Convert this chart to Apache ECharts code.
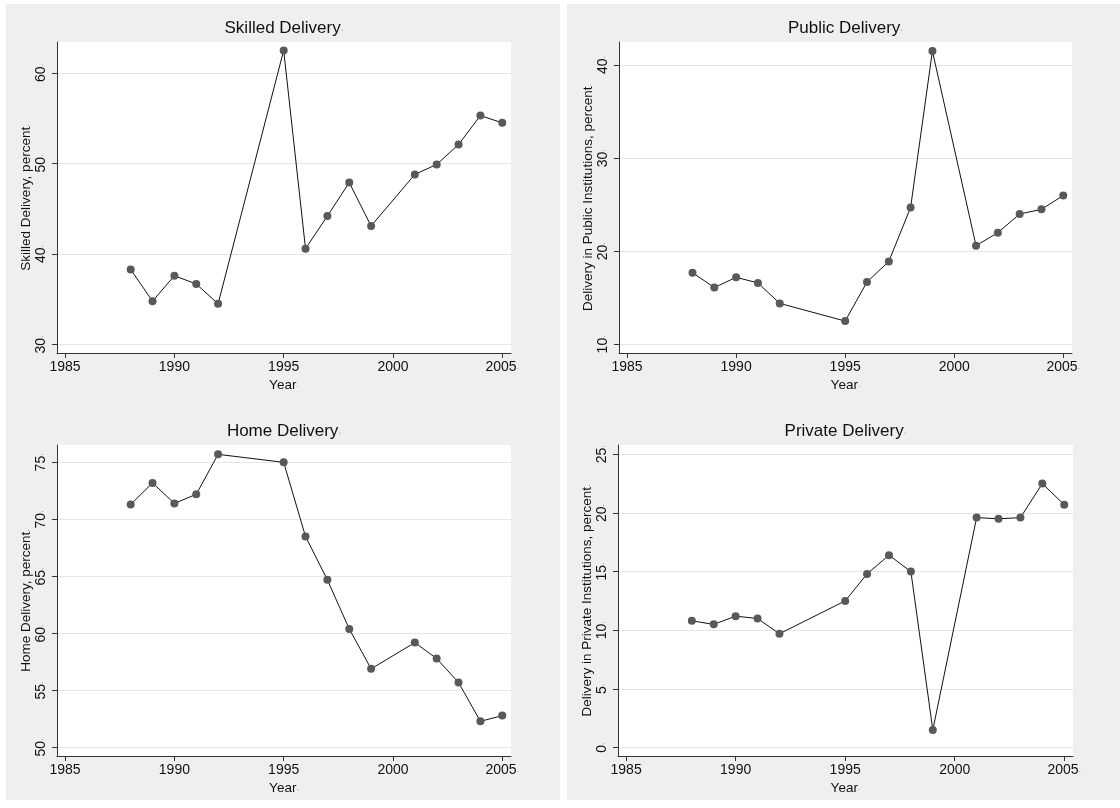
<!DOCTYPE html>
<html>
<head>
<meta charset="utf-8">
<script src="https://cdn.jsdelivr.net/npm/echarts@6/dist/echarts.min.js"></script>
<style>
  html, body { margin: 0; padding: 0; background: #ffffff; }
  #chart { width: 1120px; height: 808px; }
</style>
</head>
<body>
<div id="chart"></div>
<script>
// Survey years (no survey in 1993, 1994 or 2000)
const years = [1988, 1989, 1990, 1991, 1992, 1995, 1996, 1997, 1998, 1999, 2001, 2002, 2003, 2004, 2005];

// Share of deliveries, percent
const skilled     = [38.3, 34.8, 37.6, 36.7, 34.5, 62.5, 40.6, 44.2, 47.9, 43.1, 48.8, 49.9, 52.1, 55.3, 54.5];
const publicInst  = [17.7, 16.1, 17.2, 16.6, 14.4, 12.5, 16.7, 18.9, 24.7, 41.5, 20.6, 22.0, 24.0, 24.5, 26.0];
const home        = [71.3, 73.2, 71.4, 72.2, 75.7, 75.0, 68.5, 64.7, 60.4, 56.9, 59.2, 57.8, 55.7, 52.3, 52.8];
const privateInst = [10.8, 10.5, 11.2, 11.0, 9.7, 12.5, 14.8, 16.4, 15.0, 1.5, 19.6, 19.5, 19.6, 22.5, 20.7];

// Tick labels
const yearTicks    = [1985, 1990, 1995, 2000, 2005];
const skilledTicks = [30, 40, 50, 60];
const publicTicks  = [10, 20, 30, 40];
const homeTicks    = [50, 55, 60, 65, 70, 75];
const privateTicks = [0, 5, 10, 15, 20, 25];

// Panel text
const titles = ['Skilled Delivery', 'Public Delivery', 'Home Delivery', 'Private Delivery'];
const yNames = ['Skilled Delivery, percent', 'Delivery in Public Institutions, percent',
                'Home Delivery, percent', 'Delivery in Private Institutions, percent'];
const xName = 'Year';

// Panel layout: plot rectangle in pixels and axis extents
const panels = [
  { values: skilled,     ticks: skilledTicks, left: 57,  top: 42,  width: 454, height: 311, yMin: 29.07, yMax: 63.43 },
  { values: publicInst,  ticks: publicTicks,  left: 619, top: 42,  width: 453, height: 311, yMin: 9.07,  yMax: 42.48 },
  { values: home,        ticks: homeTicks,    left: 57,  top: 445, width: 454, height: 311, yMin: 49.26, yMax: 76.52 },
  { values: privateInst, ticks: privateTicks, left: 618, top: 445, width: 455, height: 311, yMin: -0.72, yMax: 25.79 }
];
const X_MIN = 1984.63, X_MAX = 2005.4;

const FONT = 'Liberation Sans, Arial, Helvetica, sans-serif';
const INK = '#111111';
const AXIS = '#333333';
const dotRich = { d: { color: '#9a9a9a', fontSize: 9, fontFamily: FONT } };

const grids = [], xAxes = [], yAxes = [], series = [], graphics = [];

// Grey backing panels for the two columns
graphics.push({ type: 'rect', z: -10, silent: true, shape: { x: 6, y: 4, width: 554, height: 796 }, style: { fill: '#efefef' } });
graphics.push({ type: 'rect', z: -10, silent: true, shape: { x: 567, y: 4, width: 553, height: 796 }, style: { fill: '#efefef' } });

panels.forEach((p, i) => {
  grids.push({
    left: p.left, top: p.top, width: p.width, height: p.height,
    show: true, backgroundColor: '#ffffff', borderWidth: 0, containLabel: false
  });

  xAxes.push({
    gridIndex: i, type: 'value', min: X_MIN, max: X_MAX,
    axisLine: { show: true, onZero: false, lineStyle: { color: AXIS, width: 1 } },
    axisTick: { show: true, inside: false, length: 5, customValues: yearTicks, lineStyle: { color: AXIS } },
    axisLabel: {
      customValues: yearTicks, margin: 7, color: INK, fontSize: 14, fontFamily: FONT,
      formatter: v => (v === 2005 ? '{v|2005}{d|.}' : '{v|' + v + '}'),
      rich: Object.assign({ v: { color: INK, fontSize: 14, fontFamily: FONT } }, dotRich)
    },
    splitLine: { show: false },
    name: '{n|' + xName + '}{d|.}', nameLocation: 'middle', nameGap: 25,
    nameTextStyle: { rich: Object.assign({ n: { color: INK, fontSize: 13.5, fontFamily: FONT } }, dotRich) }
  });

  yAxes.push({
    gridIndex: i, type: 'value', min: p.yMin, max: p.yMax,
    axisLine: { show: true, onZero: false, lineStyle: { color: AXIS, width: 1 } },
    axisTick: { show: true, inside: false, length: 5, customValues: p.ticks, lineStyle: { color: AXIS } },
    axisLabel: {
      customValues: p.ticks, rotate: 90, margin: 9, color: INK, fontSize: 14, fontFamily: FONT,
      formatter: v => '{v|' + v + '}{d|.}',
      rich: Object.assign({ v: { color: INK, fontSize: 14, fontFamily: FONT } }, dotRich)
    },
    splitLine: { show: true, lineStyle: { color: '#e6e6e6', width: 1 } },
    name: '{n|' + yNames[i] + '}{d|.}', nameLocation: 'middle', nameGap: 23,
    nameTextStyle: { rich: Object.assign({ n: { color: INK, fontSize: 13.5, fontFamily: FONT } }, dotRich) }
  });

  series.push({
    type: 'line', xAxisIndex: i, yAxisIndex: i,
    data: years.map((y, k) => [y, p.values[k]]),
    symbol: 'circle', symbolSize: 8, showSymbol: true,
    itemStyle: { color: '#595959' },
    lineStyle: { color: '#111111', width: 1 },
    emphasis: { disabled: true },
    animation: false
  });

  graphics.push({
    type: 'text', silent: true,
    x: p.left + p.width / 2, y: p.top - 14,
    style: {
      text: '{t|' + titles[i] + '}{d|.}',
      align: 'center', verticalAlign: 'middle',
      rich: { t: { fill: INK, fontSize: 17, fontFamily: FONT }, d: { fill: '#9a9a9a', fontSize: 10, fontFamily: FONT } }
    }
  });
});

const chart = echarts.init(document.getElementById('chart'), null, { renderer: 'canvas' });
chart.setOption({
  animation: false,
  backgroundColor: '#ffffff',
  grid: grids,
  xAxis: xAxes,
  yAxis: yAxes,
  series: series,
  graphic: graphics
});
</script>
</body>
</html>
